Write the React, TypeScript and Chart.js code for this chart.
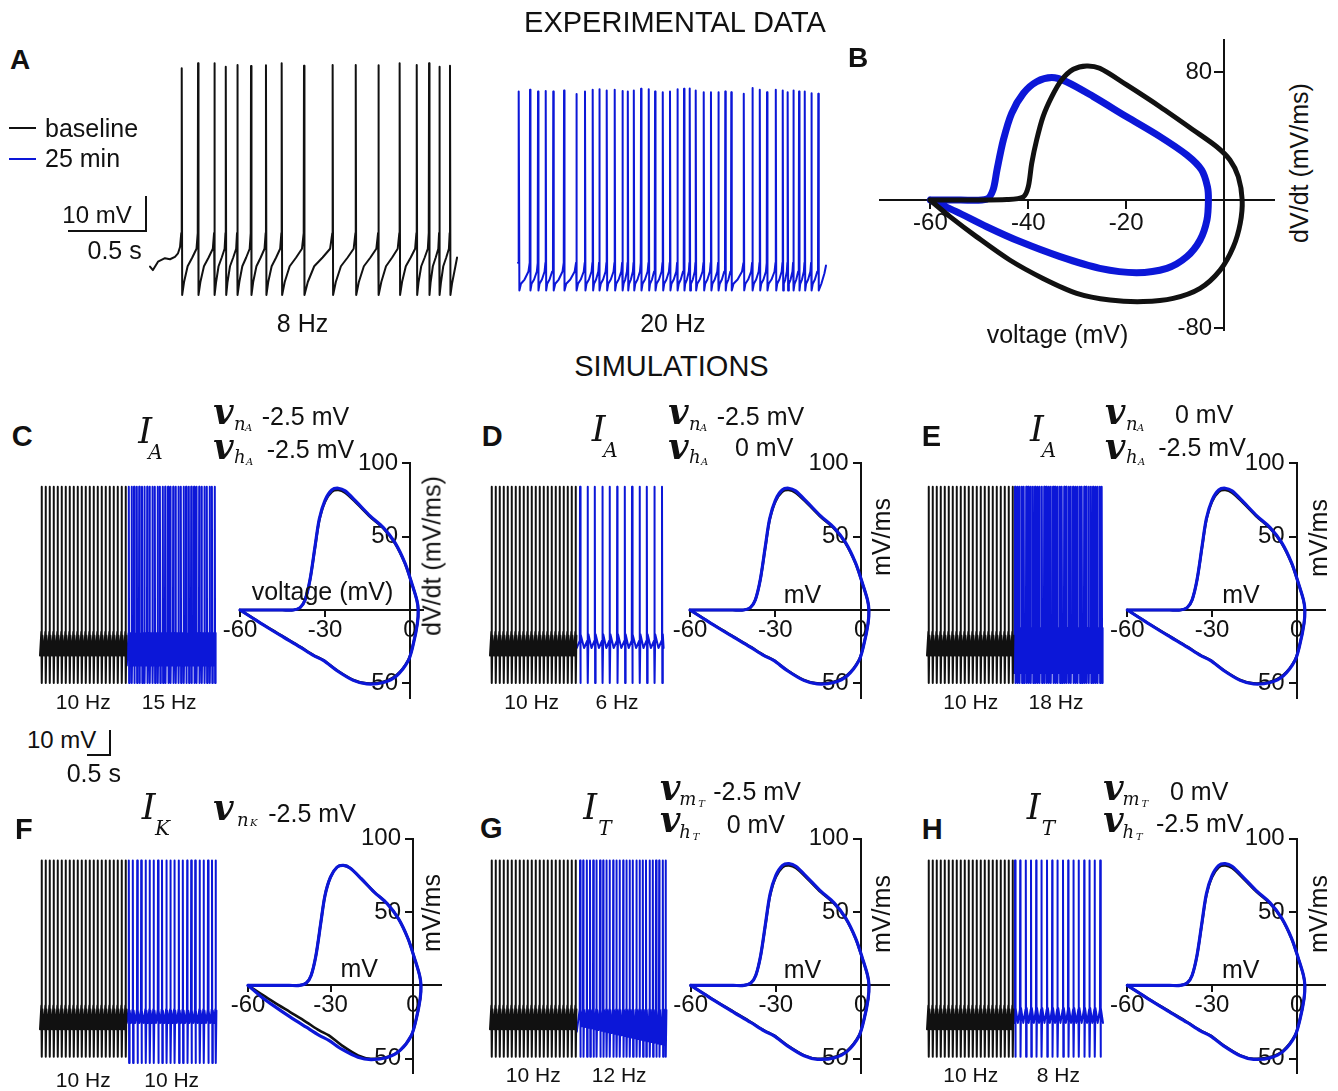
import React, { useEffect, useRef } from "react";
import { Chart, registerables } from "chart.js";
Chart.register(...registerables);

/* ===================== DATA ===================== */
// ---- Panel A: experimental voltage traces (time in s, membrane potential in mV)
const aBaselineSpikeT = [0.206, 0.312, 0.418, 0.492, 0.567, 0.656, 0.753, 0.855, 1.0, 1.186, 1.336, 1.483, 1.621, 1.732, 1.812, 1.879, 1.948];
const aBaselinePeakV = [5.1, 6.5, 6.5, 5.5, 6.0, 5.7, 5.9, 6.5, 5.8, 6.0, 6.0, 5.9, 6.5, 6.0, 6.5, 5.5, 5.8];
const aBaselineHeadT = [0, 0.019, 0.052, 0.097, 0.13, 0.162, 0.182, 0.195, 0.203];
const aBaselineHeadV = [-51.6, -52.6, -50.2, -49.2, -49.5, -48.8, -47.8, -46, -42];
const aBaselineIsiPhase = [0, 0.12, 0.35, 0.65, 0.92, 1];
const aBaselineIsiV = [-59.7, -56, -51.5, -49, -46.5, -42];
const aBaselineTailT = [1.961, 1.981, 1.994];
const aBaselineTailV = [-56.5, -52, -49];

const aDrugSpikeT = [0.006, 0.078, 0.13, 0.18, 0.229, 0.299, 0.379, 0.435, 0.485, 0.528, 0.576, 0.628, 0.678, 0.713, 0.752, 0.799, 0.849, 0.89, 0.94, 0.987, 1.035, 1.078, 1.115, 1.154, 1.206, 1.253, 1.301, 1.346, 1.385, 1.466, 1.522, 1.57, 1.617, 1.674, 1.719, 1.751, 1.788, 1.825, 1.862, 1.905, 1.95];
const aDrugPeakV = [-1.6, -1.1, -1.6, -1.4, -1.6, -1.3, -2.3, -1.6, -1.1, -0.9, -1.3, -1.1, -1.4, -1.6, -1.3, -0.8, -0.9, -1.6, -1.8, -1.6, -0.9, -0.8, -0.7, -1.3, -1.8, -1.8, -1.8, -1.6, -1.8, -2.2, -0.6, -1.1, -1.8, -1.1, -1.3, -1.8, -1.3, -1.6, -1.6, -2.1, -2.2];
const aDrugHeadT = [0, 0.003];
const aDrugHeadV = [-50.5, -50];
const aDrugIsiPhase = [0, 0.15, 0.5, 0.88, 1];
const aDrugIsiV = [-58.4, -56.5, -55.3, -53, -50.5];
const aDrugTailT = [1.97, 1.99, 2.0];
const aDrugTailV = [-56.5, -53.5, -51.3];

// ---- Panel B: phase plots (voltage mV, dV/dt mV/ms)
const bBaselineV = [-60.1, -52, -44.4, -41, -40, -39.3, -38.3, -37, -35.2, -33.2, -30.8, -28.1, -25.4, -19.9, -13.1, -6.3, -1.5, 1.2, 2.9, 3.7, 3.3, 1.9, -0.8, -4.9, -10.4, -16.5, -23.3, -30.1, -37, -43.8, -50.6, -56, -60.1];
const bBaselineDvdt = [0, 0, 0.3, 2, 8.3, 23, 37.5, 52, 64.6, 75, 81.7, 83.8, 82.3, 71.9, 58.3, 43.8, 33.3, 25, 14.6, 0, -14.6, -29.2, -43.8, -55.2, -61.5, -63.5, -62.5, -58.3, -49, -37.5, -22.9, -10.4, 0];
const bDrugV = [-60, -54, -48.5, -47.2, -46.4, -45.1, -43.4, -41, -38.3, -35.2, -32.2, -26.7, -19.9, -13.1, -7.6, -4.6, -3.4, -3.2, -3.5, -4.9, -7.6, -11.7, -17.9, -25.4, -33.5, -41.7, -48.5, -54.7, -60];
const bDrugDvdt = [0, 0, 0.5, 6.3, 18.8, 37.5, 54.2, 66.7, 73.9, 76.5, 73.9, 64.6, 52, 39.6, 28.1, 18.8, 8.3, 0, -12.5, -25, -35.4, -42.7, -45.4, -42.7, -35.4, -26, -16.7, -7.3, 0];
const bTicksX = [-60, -40, -20];
const bTicksY = [80, -80];

// ---- Simulations: phase plots
const simBaselineV = [-60, -50, -45, -41.2, -38.8, -37.05, -35.3, -33.5, -32, -30, -27.6, -25.3, -22.9, -18.8, -14.1, -9.4, -5.3, -1.8, 0.6, 2.4, 2.9, 2.6, 1.2, -0.6, -4.7, -9.4, -15.3, -20, -25.9, -30.6, -34.1, -38.8, -44.7, -50.6, -55.3, -60];
const simBaselineDvdt = [0, 0, 0, 0, 1.6, 6.8, 20.4, 43, 61.3, 73.8, 80.6, 81.8, 80, 72.7, 63.6, 55.7, 45.5, 31.8, 18.2, 6.8, 0, -9.1, -22.7, -34.1, -44.3, -48.9, -50, -47.7, -40.9, -34.1, -30.7, -25, -18.2, -11.4, -5.7, 0];
const simDrugDvdt = [0, 0, 0, 0, 1.6, 6.8, 20.6, 43.6, 62.2, 74.8, 81.8, 83, 81.2, 73.5, 64.2, 56.2, 45.9, 32.1, 18.4, 6.9, 0, -9.3, -23, -34.5, -44.8, -49.4, -50.4, -48, -41.2, -34.4, -31, -25.3, -18.5, -11.6, -5.8, 0];
const fDrugDvdt = [0, 0, 0, 0, 1.6, 6.8, 20.4, 43, 61.3, 73.8, 80.6, 81.8, 80, 72.7, 63.6, 55.7, 45.5, 31.8, 18.2, 6.8, 0, -9.1, -22.7, -34.1, -44.3, -49.2, -50.6, -49, -43.5, -37.5, -34, -28.5, -21.5, -14, -7.5, 0];
const simTicksX = [-60, -30, 0];
const simTicksY = [100, 50, -50];

// ---- Simulations: voltage traces (s) — baseline (black) then modified (blue)
const simBaselineSpikeT = [0.04, 0.14, 0.24, 0.34, 0.44, 0.54, 0.64, 0.74, 0.84, 0.94, 1.04, 1.14, 1.24, 1.34, 1.44, 1.54, 1.64, 1.74, 1.84, 1.94, 2.04, 2.14];
const cDrugSpikeT = [2.22, 2.29, 2.35, 2.42, 2.48, 2.55, 2.61, 2.68, 2.74, 2.81, 2.87, 2.94, 3.0, 3.07, 3.13, 3.2, 3.26, 3.33, 3.39, 3.46, 3.52, 3.59, 3.65, 3.72, 3.78, 3.85, 3.91, 3.98, 4.04, 4.11, 4.17, 4.24, 4.3, 4.37];
const dDrugSpikeT = [2.25, 2.44, 2.62, 2.81, 2.99, 3.18, 3.37, 3.55, 3.74, 3.92, 4.11, 4.3];
const eDrugSpikeT = [2.2, 2.26, 2.31, 2.37, 2.42, 2.48, 2.53, 2.59, 2.65, 2.7, 2.76, 2.81, 2.87, 2.93, 2.98, 3.04, 3.09, 3.15, 3.2, 3.26, 3.32, 3.37, 3.43, 3.48, 3.54, 3.59, 3.65, 3.71, 3.76, 3.82, 3.87, 3.93, 3.98, 4.04, 4.1, 4.15, 4.21, 4.26, 4.32, 4.37];
const fDrugSpikeT = [2.22, 2.32, 2.43, 2.53, 2.64, 2.74, 2.84, 2.95, 3.05, 3.16, 3.26, 3.36, 3.47, 3.57, 3.68, 3.78, 3.88, 3.99, 4.09, 4.2, 4.3, 4.39];
const gDrugSpikeT = [2.25, 2.33, 2.42, 2.5, 2.58, 2.66, 2.75, 2.83, 2.91, 2.99, 3.08, 3.16, 3.24, 3.33, 3.41, 3.49, 3.57, 3.66, 3.74, 3.82, 3.9, 3.99, 4.07, 4.15, 4.23, 4.32, 4.39];
const hDrugSpikeT = [2.2, 2.33, 2.47, 2.6, 2.73, 2.86, 3.0, 3.13, 3.26, 3.4, 3.53, 3.66, 3.79, 3.93, 4.06, 4.19, 4.33];
// levels: [peak, trough, rebound, valley, threshold] (mV)
const simBaselineLevels = [18.5, -60, -41, -49, -39.5];
const cDrugLevels = [18.5, -60, -40, -53, -40];
const dDrugLevels = [18.5, -60, -40.5, -46, -43];
const eDrugLevels = [18.5, -60, -38, -56, -39];
const fDrugLevels = [18.5, -62.5, -41.5, -46.5, -41];
const gDrugLevels = [18.5, -60, -41.3, -50, -41];
const gDrugValleys = [-47.8, -48.1, -48.4, -48.7, -49, -49.3, -49.6, -49.9, -50.2, -50.5, -50.8, -51.1, -51.4, -51.7, -52, -52.3, -52.6, -52.9, -53.2, -53.5, -53.8, -54.1, -54.4, -54.7, -55, -55.3, -55.5];
const hDrugLevels = [18.5, -60, -40.5, -46.5, -41];

/* ===================== HELPERS ===================== */
const INK = "#111111";
const BLUE = "#0c17d8";
const FONT = '"Liberation Sans", Arial, Helvetica, sans-serif';
const MATH = '"DejaVu Serif", "Liberation Serif", serif';

type Pt = { x: number; y: number };

function expTrace(spk: number[], peaks: number[], headT: number[], headV: number[], phase: number[], isiV: number[], tailT: number[], tailV: number[]): Pt[] {
  const pts: Pt[] = headT.map((t, i) => ({ x: t, y: headV[i] }));
  for (let i = 0; i < spk.length; i++) {
    const t = spk[i];
    pts.push({ x: t, y: peaks[i] }, { x: t + 0.003, y: isiV[0] });
    if (i < spk.length - 1) {
      const a = t + 0.003;
      const b = spk[i + 1] - 0.002;
      for (let k = 1; k < phase.length; k++) pts.push({ x: a + phase[k] * (b - a), y: isiV[k] });
    }
  }
  tailT.forEach((t, i) => pts.push({ x: t, y: tailV[i] }));
  return pts;
}

function simTrace(spk: number[], lv: number[], t0: number, t1: number, valleys?: number[]): Pt[] {
  const [peak, trough, rebound, valley, thr] = lv;
  const pts: Pt[] = [{ x: t0, y: valley }];
  spk.forEach((t, i) => {
    pts.push({ x: t - 0.006, y: thr }, { x: t, y: peak }, { x: t + 0.008, y: trough }, { x: t + 0.02, y: rebound });
    const vm = valleys ? valleys[i] : valley;
    if (i < spk.length - 1) pts.push({ x: (t + 0.014 + spk[i + 1]) / 2, y: vm });
    else if (t1 > t + 0.03) pts.push({ x: t1, y: vm });
  });
  return pts;
}

const zip = (a: number[], b: number[]): Pt[] => a.map((v, i) => ({ x: v, y: b[i] }));

type Area = { l: number; t: number; r: number; b: number };

function traceCfg(sets: { pts: Pt[]; c: string; w: number }[], xr: number[], yr: number[]) {
  return {
    type: "line",
    data: {
      datasets: sets.map((s) => ({
        data: s.pts, borderColor: s.c, borderWidth: s.w, pointRadius: 0, tension: 0, fill: false, clip: false,
        borderJoinStyle: "round", borderCapStyle: "round",
      })),
    },
    options: {
      animation: false, responsive: false, events: [],
      plugins: { legend: { display: false }, tooltip: { enabled: false } },
      scales: {
        x: { type: "linear", display: false, min: xr[0], max: xr[1] },
        y: { type: "linear", display: false, min: yr[0], max: yr[1] },
      },
    },
  };
}

function phaseCfg(sets: { pts: Pt[]; c: string; w: number }[], xr: number[], yr: number[], xt: number[], yt: number[], tlx: number, padx: number, tly: number) {
  const font = { family: FONT, size: 24, lineHeight: 1 };
  return {
    type: "line",
    data: {
      datasets: sets.map((s) => ({
        data: s.pts, borderColor: s.c, borderWidth: s.w, pointRadius: 0, tension: 0.3, fill: false, clip: false,
        borderJoinStyle: "round", borderCapStyle: "round",
      })),
    },
    options: {
      animation: false, responsive: false, events: [],
      elements: { line: { capBezierPoints: false } },
      plugins: { legend: { display: false }, tooltip: { enabled: false } },
      scales: {
        x: {
          type: "linear", min: xr[0], max: xr[1], position: { y: 0 },
          afterBuildTicks: (ax: any) => { ax.ticks = xt.map((v) => ({ value: v })); },
          grid: { drawOnChartArea: false, drawTicks: true, tickLength: tlx, color: INK, lineWidth: 2 },
          border: { display: true, color: INK, width: 2 },
          ticks: { autoSkip: false, maxRotation: 0, minRotation: 0, padding: padx, color: INK, font, callback: (v: number) => String(v) },
        },
        y: {
          type: "linear", min: yr[0], max: yr[1], position: { x: 0 },
          afterBuildTicks: (ax: any) => { ax.ticks = yt.map((v) => ({ value: v })); },
          grid: { drawOnChartArea: false, drawTicks: true, tickLength: tly, color: INK, lineWidth: 2 },
          border: { display: true, color: INK, width: 2 },
          ticks: { autoSkip: false, padding: 0, color: INK, font, callback: (v: number) => `${v}\u2002` },
        },
      },
    },
  };
}

function Plot({ area, pad, make }: { area: Area; pad: number[]; make: () => any }) {
  const ref = useRef<HTMLCanvasElement | null>(null);
  const left = Math.floor(area.l - pad[0]);
  const top = Math.floor(area.t - pad[2]);
  const width = Math.ceil(area.r + pad[1]) - left;
  const height = Math.ceil(area.b + pad[3]) - top;
  useEffect(() => {
    const cfg = make();
    cfg.options.layout = {
      padding: { left: area.l - left, right: left + width - area.r, top: area.t - top, bottom: top + height - area.b },
    };
    const ch = new Chart(ref.current as HTMLCanvasElement, cfg);
    return () => ch.destroy();
  }, []);
  return <canvas ref={ref} width={width} height={height} style={{ position: "absolute", left, top, width, height }} />;
}

const K = 0.846;
function L({ x, y, s, t, al = "l", b = false, i = false, m = false }: any) {
  const st: any = {
    position: "absolute", left: x, top: y - K * s, fontSize: s, lineHeight: `${s}px`,
    fontFamily: m ? MATH : FONT, fontWeight: b ? "bold" : "normal", fontStyle: i ? "italic" : "normal",
    whiteSpace: "pre", color: INK,
  };
  if (al === "c") st.transform = "translateX(-50%)";
  if (al === "r") st.transform = "translateX(-100%)";
  return <div style={st}>{t}</div>;
}
function Rot({ cx, cy, s, t }: any) {
  return (
    <div style={{ position: "absolute", left: cx, top: cy, fontSize: s, lineHeight: `${s}px`, fontFamily: FONT, whiteSpace: "pre", color: INK, transform: "translate(-50%, -50%) rotate(-90deg)" }}>{t}</div>
  );
}
function Bar({ x, y, w, h, c = INK }: any) {
  return <div style={{ position: "absolute", left: x, top: y, width: w, height: h, background: c }} />;
}

// current label: I with subscript
function Cur({ x, y, sub, sx, sy }: any) {
  return (
    <>
      <L x={x} y={y} s={35} t="I" i m />
      <L x={sx} y={sy} s={20} t={sub} i m />
    </>
  );
}
// gating variable label: v_{g_X}
function Gate({ x, y, g, X, gx, gy, Xx, Xy }: any) {
  return (
    <>
      <L x={x} y={y} s={35} t="v" i m b />
      <L x={gx} y={gy} s={18} t={g} i m />
      <L x={Xx} y={Xy} s={10} t={X} i m />
    </>
  );
}

const PH_PAD = [32, 10, 16, 32];
const TR_PAD = [6, 6, 6, 6];
const SIM_XR = [0, 4.4];
const SIM_YR = [-64, 21];
const SIM_PYR = [-60, 100];
const SIM_LW = 2;

function simPhase(drugDvdt: number[]) {
  return [
    { pts: zip(simBaselineV, drugDvdt), c: BLUE, w: 3.2 },
    { pts: zip(simBaselineV, simBaselineDvdt), c: INK, w: 2.6 },
  ];
}

export default function App() {
  const row1 = { t: 463.3, b: 698 };
  const row2 = { t: 838.7, b: 1073.4 };
  const tr1 = { t: 480.5, b: 693 };
  const tr2 = { t: 854.2, b: 1066.7 };
  const simSets = (drug: Pt[]) => [
    { pts: simTrace(simBaselineSpikeT, simBaselineLevels, 0, 2.17), c: INK, w: SIM_LW },
    { pts: drug, c: BLUE, w: SIM_LW },
  ];
  return (
    <div style={{ position: "absolute", left: 0, top: 0, width: 1338, height: 1091, background: "#fff", overflow: "hidden" }}>
      {/* Panel A traces */}
      <Plot area={{ l: 150, t: 40, r: 458, b: 310 }} pad={TR_PAD}
        make={() => traceCfg([{ pts: expTrace(aBaselineSpikeT, aBaselinePeakV, aBaselineHeadT, aBaselineHeadV, aBaselineIsiPhase, aBaselineIsiV, aBaselineTailT, aBaselineTailV), c: INK, w: 2 }], [0, 2], [-64, 13.14])} />
      <Plot area={{ l: 518, t: 40, r: 826, b: 310 }} pad={TR_PAD}
        make={() => traceCfg([{ pts: expTrace(aDrugSpikeT, aDrugPeakV, aDrugHeadT, aDrugHeadV, aDrugIsiPhase, aDrugIsiV, aDrugTailT, aDrugTailV), c: BLUE, w: 2 }], [0, 2], [-64, 13.14])} />
      {/* Panel B phase plot */}
      <Plot area={{ l: 880, t: 40, r: 1274, b: 330 }} pad={PH_PAD}
        make={() => phaseCfg([
          { pts: zip(bBaselineV, bBaselineDvdt), c: INK, w: 5 },
          { pts: zip(bDrugV, bDrugDvdt), c: BLUE, w: 7 },
        ], [-70.3, 10.2], [-81.25, 100], bTicksX, bTicksY, 8, 3, 9)} />

      {/* Simulation traces */}
      <Plot area={{ l: 40, r: 216, ...tr1 }} pad={TR_PAD} make={() => traceCfg(simSets(simTrace(cDrugSpikeT, cDrugLevels, 2.17, 4.4)), SIM_XR, SIM_YR)} />
      <Plot area={{ l: 490, r: 666, ...tr1 }} pad={TR_PAD} make={() => traceCfg(simSets(simTrace(dDrugSpikeT, dDrugLevels, 2.17, 4.34)), SIM_XR, SIM_YR)} />
      <Plot area={{ l: 927, r: 1103, ...tr1 }} pad={TR_PAD} make={() => traceCfg(simSets(simTrace(eDrugSpikeT, eDrugLevels, 2.17, 4.4)), SIM_XR, SIM_YR)} />
      <Plot area={{ l: 40, r: 216, ...tr2 }} pad={TR_PAD} make={() => traceCfg(simSets(simTrace(fDrugSpikeT, fDrugLevels, 2.17, 4.41)), SIM_XR, SIM_YR)} />
      <Plot area={{ l: 490, r: 666, ...tr2 }} pad={TR_PAD} make={() => traceCfg(simSets(simTrace(gDrugSpikeT, gDrugLevels, 2.17, 4.41, gDrugValleys)), SIM_XR, SIM_YR)} />
      <Plot area={{ l: 927, r: 1103, ...tr2 }} pad={TR_PAD} make={() => traceCfg(simSets(simTrace(hDrugSpikeT, hDrugLevels, 2.17, 4.4)), SIM_XR, SIM_YR)} />

      {/* Simulation phase plots */}
      <Plot area={{ l: 240, r: 422.75, ...row1 }} pad={PH_PAD} make={() => phaseCfg(simPhase(simDrugDvdt), [-60, 4.5], SIM_PYR, simTicksX, simTicksY, 6, 2, 7)} />
      <Plot area={{ l: 690, r: 889.1, ...row1 }} pad={PH_PAD} make={() => phaseCfg(simPhase(simDrugDvdt), [-60, 10], SIM_PYR, simTicksX, simTicksY, 6, 2, 7)} />
      <Plot area={{ l: 1127.3, r: 1324.9, ...row1 }} pad={PH_PAD} make={() => phaseCfg(simPhase(simDrugDvdt), [-60, 10], SIM_PYR, simTicksX, simTicksY, 6, 2, 7)} />
      <Plot area={{ l: 248, r: 440.5, ...row2 }} pad={PH_PAD} make={() => phaseCfg(simPhase(fDrugDvdt), [-60, 10], SIM_PYR, simTicksX, simTicksY, 6, 2, 7)} />
      <Plot area={{ l: 690.7, r: 889.1, ...row2 }} pad={PH_PAD} make={() => phaseCfg(simPhase(simDrugDvdt), [-60, 10], SIM_PYR, simTicksX, simTicksY, 6, 2, 7)} />
      <Plot area={{ l: 1127.3, r: 1324.9, ...row2 }} pad={PH_PAD} make={() => phaseCfg(simPhase(simDrugDvdt), [-60, 10], SIM_PYR, simTicksX, simTicksY, 6, 2, 7)} />

      {/* Titles */}
      <L x={675} y={33} s={29} t="EXPERIMENTAL DATA" al="c" />
      <L x={671.5} y={377} s={29} t="SIMULATIONS" al="c" />

      {/* Panel A annotations */}
      <L x={10} y={70} s={28} t="A" b />
      <Bar x={9} y={126.5} w={27} h={2.5} />
      <Bar x={9} y={157.8} w={27} h={2.5} c={BLUE} />
      <L x={45} y={136.7} s={25} t="baseline" />
      <L x={45} y={166.7} s={25} t="25 min" />
      <L x={62.3} y={223.3} s={24} t="10 mV" />
      <Bar x={144.7} y={196} w={2} h={36} />
      <Bar x={68.3} y={230} w={78.4} h={2} />
      <L x={141.7} y={259.3} s={25} t="0.5 s" al="r" />
      <L x={302.5} y={331.7} s={25} t="8 Hz" al="c" />
      <L x={672.8} y={331.7} s={25} t="20 Hz" al="c" />

      {/* Panel B annotations */}
      <L x={848} y={68} s={28} t="B" b />
      <L x={1057.5} y={343} s={25} t="voltage (mV)" al="c" />
      <Rot cx={1299.3} cy={163} s={25} t="dV/dt (mV/ms)" />

      {/* Panel C */}
      <L x={11.7} y={446.7} s={29} t="C" b />
      <Cur x={138.3} y={443.3} sub="A" sx={148.3} sy={459.3} />
      <Gate x={213.3} y={423.3} g="n" X="A" gx={234} gy={430} Xx={245} Xy={431.7} />
      <L x={261.7} y={425} s={25} t="-2.5 mV" />
      <Gate x={213.3} y={458.3} g="h" X="A" gx={234} gy={463.3} Xx={246} Xy={465} />
      <L x={266.7} y={457.7} s={25} t="-2.5 mV" />
      <L x={83.3} y={708.3} s={21} t="10 Hz" al="c" />
      <L x={169.2} y={708.3} s={21} t="15 Hz" al="c" />
      <L x={322.5} y={600} s={25} t="voltage (mV)" al="c" />
      <Rot cx={432} cy={555.8} s={25} t="dV/dt (mV/ms)" />

      {/* Panel D */}
      <L x={481.7} y={446.7} s={29} t="D" b />
      <Cur x={591.7} y={441.7} sub="A" sx={603.3} sy={457.3} />
      <Gate x={668.3} y={423.3} g="n" X="A" gx={689} gy={430} Xx={700} Xy={431.7} />
      <L x={716.7} y={425} s={25} t="-2.5 mV" />
      <Gate x={668.3} y={458.3} g="h" X="A" gx={689} gy={463.3} Xx={701} Xy={465} />
      <L x={735} y={456.5} s={25} t="0 mV" />
      <L x={531.7} y={708.3} s={21} t="10 Hz" al="c" />
      <L x={617} y={708.3} s={21} t="6 Hz" al="c" />
      <L x={802.5} y={602.7} s={25} t="mV" al="c" />
      <Rot cx={881} cy={536.7} s={25} t="mV/ms" />

      {/* Panel E */}
      <L x={921.7} y={446.7} s={29} t="E" b />
      <Cur x={1030} y={441.7} sub="A" sx={1041.7} sy={456.7} />
      <Gate x={1105} y={423.3} g="n" X="A" gx={1126} gy={430} Xx={1137} Xy={431.7} />
      <L x={1175} y={422.7} s={25} t="0 mV" />
      <Gate x={1105} y={458.3} g="h" X="A" gx={1126} gy={463.3} Xx={1138} Xy={465} />
      <L x={1158.3} y={456} s={25} t="-2.5 mV" />
      <L x={970.8} y={708.3} s={21} t="10 Hz" al="c" />
      <L x={1056} y={708.3} s={21} t="18 Hz" al="c" />
      <L x={1241} y={602.7} s={25} t="mV" al="c" />
      <Rot cx={1317.5} cy={537.5} s={25} t="mV/ms" />

      {/* Simulation scale bar */}
      <L x={27} y={748.3} s={24} t="10 mV" />
      <Bar x={109} y={730} w={2} h={26} />
      <Bar x={86.7} y={754} w={24.3} h={2} />
      <L x={66.7} y={781.7} s={25} t="0.5 s" />

      {/* Panel F */}
      <L x={15} y={840} s={29} t="F" b />
      <Cur x={141.7} y={820} sub="K" sx={155} sy={835} />
      <Gate x={213.3} y={820} g="n" X="K" gx={237} gy={826.7} Xx={250} Xy={826} />
      <L x={268.3} y={821.7} s={25} t="-2.5 mV" />
      <L x={83.3} y={1087} s={21} t="10 Hz" al="c" />
      <L x={171.7} y={1087} s={21} t="10 Hz" al="c" />
      <L x={359.2} y={976.7} s={25} t="mV" al="c" />
      <Rot cx={431} cy={913.3} s={25} t="mV/ms" />

      {/* Panel G */}
      <L x={480} y={838.3} s={29} t="G" b />
      <Cur x={583.3} y={820} sub="T" sx={598.3} sy={835} />
      <Gate x={660} y={800} g="m" X="T" gx={679.3} gy={805} Xx={698.3} Xy={807} />
      <L x={713.3} y={800} s={25} t="-2.5 mV" />
      <Gate x={660} y={831.7} g="h" X="T" gx={679.3} gy={838} Xx={692.7} Xy={840} />
      <L x={726.7} y={832.7} s={25} t="0 mV" />
      <L x={533.3} y={1081.7} s={21} t="10 Hz" al="c" />
      <L x={619.2} y={1081.7} s={21} t="12 Hz" al="c" />
      <L x={802.5} y={978.3} s={25} t="mV" al="c" />
      <Rot cx={881} cy={914} s={25} t="mV/ms" />

      {/* Panel H */}
      <L x={921.7} y={840} s={29} t="H" b />
      <Cur x={1026.7} y={820} sub="T" sx={1041.7} sy={835} />
      <Gate x={1103.3} y={800} g="m" X="T" gx={1122.6} gy={805} Xx={1141.6} Xy={807} />
      <L x={1170} y={800} s={25} t="0 mV" />
      <Gate x={1103.3} y={831.7} g="h" X="T" gx={1122.6} gy={838} Xx={1136} Xy={840} />
      <L x={1156} y={831.7} s={25} t="-2.5 mV" />
      <L x={970.8} y={1081.7} s={21} t="10 Hz" al="c" />
      <L x={1058.3} y={1081.7} s={21} t="8 Hz" al="c" />
      <L x={1240.8} y={978.3} s={25} t="mV" al="c" />
      <Rot cx={1317.5} cy={914} s={25} t="mV/ms" />
    </div>
  );
}
